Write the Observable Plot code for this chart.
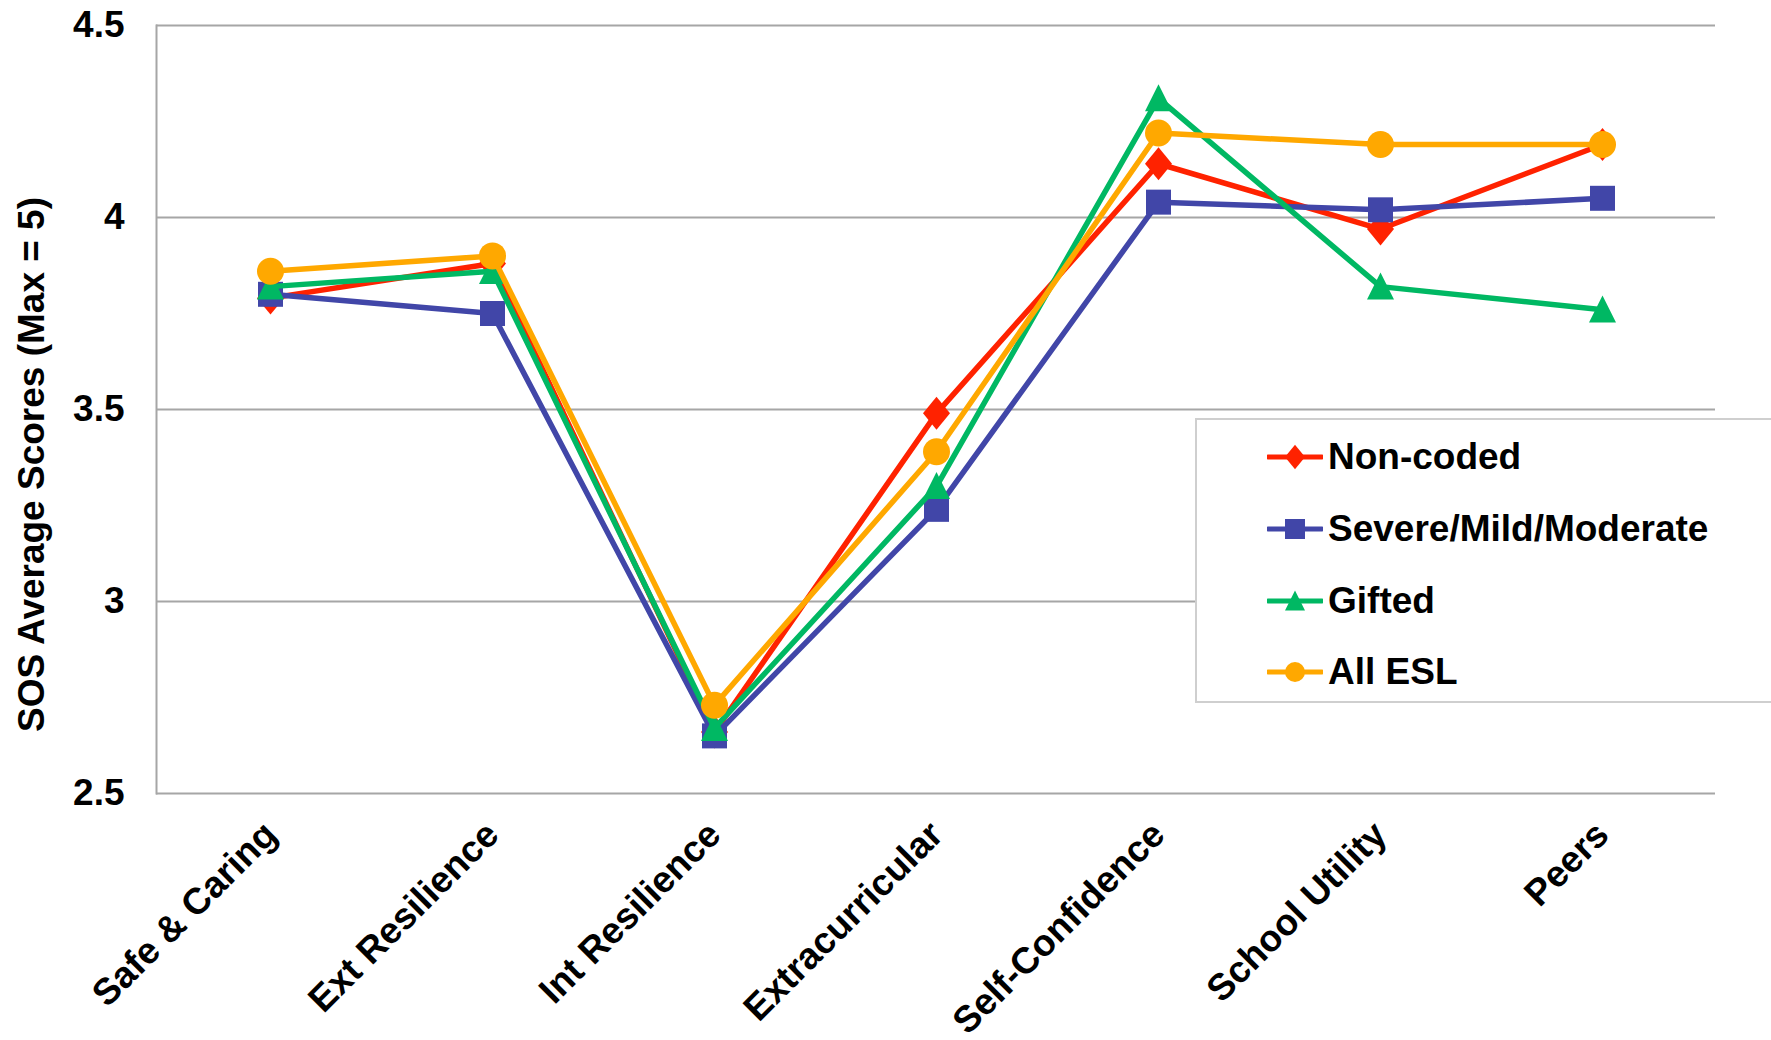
<!DOCTYPE html>
<html><head><meta charset="utf-8">
<script src="https://cdn.jsdelivr.net/npm/d3@7"></script>
<script src="https://cdn.jsdelivr.net/npm/@observablehq/plot@0.6"></script>
<style>
html,body{margin:0;padding:0;background:#fff;overflow:hidden;}
#wrap{position:relative;width:1771px;height:1040px;font-family:"Liberation Sans",Arial,sans-serif;}
#legend{position:absolute;left:1195px;top:418px;width:640px;height:285px;border:2px solid #cfcfcf;background:#fff;box-sizing:border-box;}
.row{position:absolute;left:70px;height:60px;display:flex;align-items:center;font-size:37px;font-weight:bold;color:#000;white-space:nowrap;}
.row svg{display:block;margin-right:5px;}
</style></head><body><div id="wrap"></div>
<script>
const categories = ["Safe & Caring","Ext Resilience","Int Resilience","Extracurricular","Self-Confidence","School Utility","Peers"];
const nonCoded = [3.79, 3.88, 2.66, 3.49, 4.14, 3.97, 4.19];
const severe   = [3.80, 3.75, 2.65, 3.24, 4.04, 4.02, 4.05];
const gifted   = [3.82, 3.86, 2.67, 3.30, 4.31, 3.82, 3.76];
const allEsl   = [3.86, 3.90, 2.73, 3.39, 4.22, 4.19, 4.19];
const seriesNames = ["Non-coded","Severe/Mild/Moderate","Gifted","All ESL"];
const seriesValues = [nonCoded, severe, gifted, allEsl];
const seriesColors = ["#FF2200","#4146A8","#00B863","#FFA800"];
const yTicks = [2.5, 3, 3.5, 4, 4.5];
const yLabel = "SOS Average Scores (Max = 5)";

// marker shapes (half-size = sqrt(size/PI))
const diamond = {draw(c, s){const h=Math.sqrt(s/Math.PI), v=h*1.22; c.moveTo(0,-v); c.lineTo(h,0); c.lineTo(0,v); c.lineTo(-h,0); c.closePath();}};
const square = {draw(c, s){const h=Math.sqrt(s/Math.PI); c.rect(-h,-h,2*h,2*h);}};
const triangle = {draw(c, s){const h=Math.sqrt(s/Math.PI); c.moveTo(0,-h*1.05); c.lineTo(h,h*0.95); c.lineTo(-h,h*0.95); c.closePath();}};
const circle = {draw(c, s){const h=Math.sqrt(s/Math.PI); c.moveTo(h,0); c.ellipse ? c.ellipse(0,0,h,h*1.05,0,0,2*Math.PI) : c.arc(0,0,h,0,2*Math.PI);}};
const seriesSymbols = [diamond, square, triangle, circle];
const seriesR = [13.5, 12.5, 13.5, 13.5];

const table = seriesNames.flatMap((name, si) => categories.map((cat, ci) => ({series: name, category: cat, value: seriesValues[si][ci]})));

const marks = [
  Plot.gridY(yTicks, {stroke: "#a6a6a6", strokeOpacity: 1, strokeWidth: 2}),
  Plot.frame({anchor: "left", stroke: "#a6a6a6", strokeWidth: 2}),
  Plot.axisY(yTicks, {tickSize: 0, tickPadding: 32, tickFormat: d => String(d), fontSize: 37, fontWeight: "bold", label: null}),
  Plot.axisX({tickSize: 0, tickPadding: 35, tickRotate: -45, fontSize: 37, fontWeight: "bold", label: null}),
  Plot.text([yLabel], {frameAnchor: "left", rotate: -90, dx: -124, dy: 55, textAnchor: "middle", fontSize: 37, fontWeight: "bold", fill: "#000"})
];
seriesNames.forEach((name, si) => {
  const d = table.filter(r => r.series === name);
  marks.push(Plot.line(d, {x: "category", y: "value", stroke: seriesColors[si], strokeWidth: 5.5, strokeLinejoin: "miter"}));
  marks.push(Plot.dot(d, {x: "category", y: "value", symbol: seriesSymbols[si], r: seriesR[si], fill: seriesColors[si], stroke: "none"}));
});

const chart = Plot.plot({
  width: 1771, height: 1040,
  marginTop: 25, marginRight: 56, marginBottom: 247, marginLeft: 156,
  x: {type: "point", domain: categories, padding: 0.5},
  y: {domain: [2.5, 4.5]},
  style: {fontFamily: "'Liberation Sans', Arial, sans-serif", color: "#000", background: "#fff", overflow: "visible"},
  marks
});
const wrap = document.getElementById("wrap");
wrap.appendChild(chart);

// legend
const legend = document.createElement("div");
legend.id = "legend";
const rowCenters = [37, 109, 181, 252];
seriesNames.forEach((name, si) => {
  const row = document.createElement("div");
  row.className = "row";
  row.style.top = (rowCenters[si] - 30) + "px";
  const sw = d3.create("svg").attr("width", 56).attr("height", 40);
  sw.append("line").attr("x1", 1).attr("x2", 55).attr("y1", 20).attr("y2", 20)
    .attr("stroke", seriesColors[si]).attr("stroke-width", 5).attr("stroke-linecap", "round");
  const rr = 10;
  sw.append("path").attr("transform", "translate(28,20)")
    .attr("d", d3.symbol().type(seriesSymbols[si]).size(Math.PI * rr * rr)())
    .attr("fill", seriesColors[si]);
  row.appendChild(sw.node());
  const t = document.createElement("span");
  t.textContent = name;
  row.appendChild(t);
  legend.appendChild(row);
});
wrap.appendChild(legend);
</script></body></html>
